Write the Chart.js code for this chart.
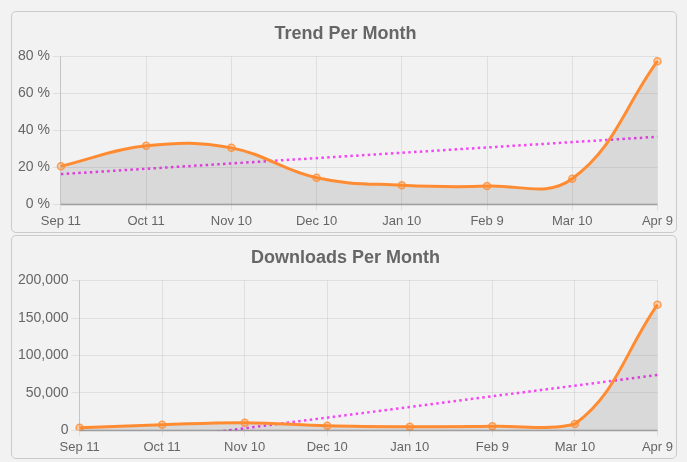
<!DOCTYPE html>
<html lang="en">
<head>
    <meta charset="UTF-8">
    <title>Trend and Downloads Per Month</title>
    <script src="https://cdn.jsdelivr.net/npm/chart.js@4/dist/chart.umd.min.js"></script>
    <style>
        body {
            margin: 0;
            background: #f2f2f2;
            font-family: 'Liberation Sans', Arial, sans-serif;
            width: 687px;
            height: 462px;
            position: relative;
            overflow: hidden;
        }

        .panel {
            position: absolute;
            left: 11px;
            width: 664px;
            border: 1px solid #c9cbcb;
            border-radius: 5px;
            background: #f2f2f2;
        }

        .panel .box {
            position: absolute;
            top: 0;
            left: 3px;
            right: 0;
            bottom: 0;
        }
    </style>
</head>
<body>
    <div class="panel" style="top: 11px; height: 220px;">
        <div class="box"><canvas id="trendChart"></canvas></div>
    </div>
    <div class="panel" style="top: 235px; height: 222px;">
        <div class="box"><canvas id="downloadsChart"></canvas></div>
    </div>

    <script>
        // month labels along the bottom
        const months = ['Sep 11', 'Oct 11', 'Nov 10', 'Dec 10', 'Jan 10', 'Feb 9', 'Mar 10', 'Apr 9'];

        // trend per month, in percent
        const trendValues = [20.7, 31.7, 30.6, 14.4, 10.4, 9.9, 13.9, 77.5];
        // dotted trend line, only the two ends
        const trendLine = [16.4, null, null, null, null, null, null, 36.6];
        const trendTicks = [0, 20, 40, 60, 80];

        // downloads per month
        const downloadValues = [3600, 7600, 10300, 6300, 5000, 5400, 8500, 167800];
        const downloadLine = [-25600, null, null, null, null, null, null, 74000];
        const downloadTicks = [0, 50000, 100000, 150000, 200000];

        const orange = 'rgb(255, 140, 50)';
        const magenta = 'rgb(245, 70, 245)';
        const textGray = '#666';

        function makeChart(id, title, values, line, ticks, fmt) {
            const ctx = document.getElementById(id).getContext('2d');
            return new Chart(ctx, {
                type: 'line',
                data: {
                    labels: months,
                    datasets: [{
                        data: values,
                        borderColor: orange,
                        backgroundColor: 'rgba(0, 0, 0, 0.1)',
                        borderWidth: 3,
                        tension: 0.4,
                        fill: 'origin',
                        pointRadius: 3.5,
                        pointBorderWidth: 1.5,
                        pointBorderColor: 'rgba(255, 140, 50, 0.8)',
                        pointBackgroundColor: 'rgba(255, 140, 50, 0.3)',
                        order: 1
                    }, {
                        data: line,
                        borderColor: magenta,
                        borderWidth: 2.5,
                        borderDash: [2.5, 3.3],
                        pointRadius: 0,
                        fill: false,
                        spanGaps: true,
                        tension: 0,
                        order: 2
                    }]
                },
                options: {
                    responsive: true,
                    maintainAspectRatio: false,
                    animation: false,
                    layout: { padding: 0 },
                    plugins: {
                        legend: { display: false },
                        tooltip: { enabled: false },
                        title: {
                            display: true,
                            text: title,
                            color: textGray,
                            font: { size: 18, weight: 'bold', family: "'Liberation Sans', Arial, sans-serif" },
                            padding: { top: 11, bottom: 12 }
                        }
                    },
                    scales: {
                        x: {
                            offset: false,
                            grid: { color: 'rgba(0, 0, 0, 0.08)', tickLength: 6 },
                            border: { color: 'rgba(0, 0, 0, 0.12)' },
                            ticks: {
                                color: textGray,
                                maxRotation: 0,
                                autoSkip: false,
                                font: { size: 13, family: "'Liberation Sans', Arial, sans-serif" }
                            }
                        },
                        y: {
                            min: ticks[0],
                            max: ticks[ticks.length - 1],
                            grid: { color: 'rgba(0, 0, 0, 0.08)', tickLength: 8 },
                            border: { color: 'rgba(0, 0, 0, 0.12)' },
                            afterBuildTicks: axis => {
                                axis.ticks = ticks.map(v => ({ value: v }));
                            },
                            ticks: {
                                color: textGray,
                                font: { size: 14, family: "'Liberation Sans', Arial, sans-serif" },
                                callback: fmt
                            }
                        }
                    }
                },
                plugins: [{
                    // darker baseline along zero
                    id: 'baseline',
                    afterDatasetsDraw(chart) {
                        const c = chart.ctx;
                        const area = chart.chartArea;
                        const y0 = chart.scales.y.getPixelForValue(0);
                        c.save();
                        c.strokeStyle = 'rgba(0, 0, 0, 0.18)';
                        c.lineWidth = 2;
                        c.beginPath();
                        c.moveTo(area.left, y0);
                        c.lineTo(area.right, y0);
                        c.stroke();
                        c.restore();
                    }
                }]
            });
        }

        makeChart('trendChart', 'Trend Per Month', trendValues, trendLine, trendTicks,
            v => v + ' %');
        makeChart('downloadsChart', 'Downloads Per Month', downloadValues, downloadLine, downloadTicks,
            v => v.toLocaleString('en-US'));
    </script>
</body>
</html>
